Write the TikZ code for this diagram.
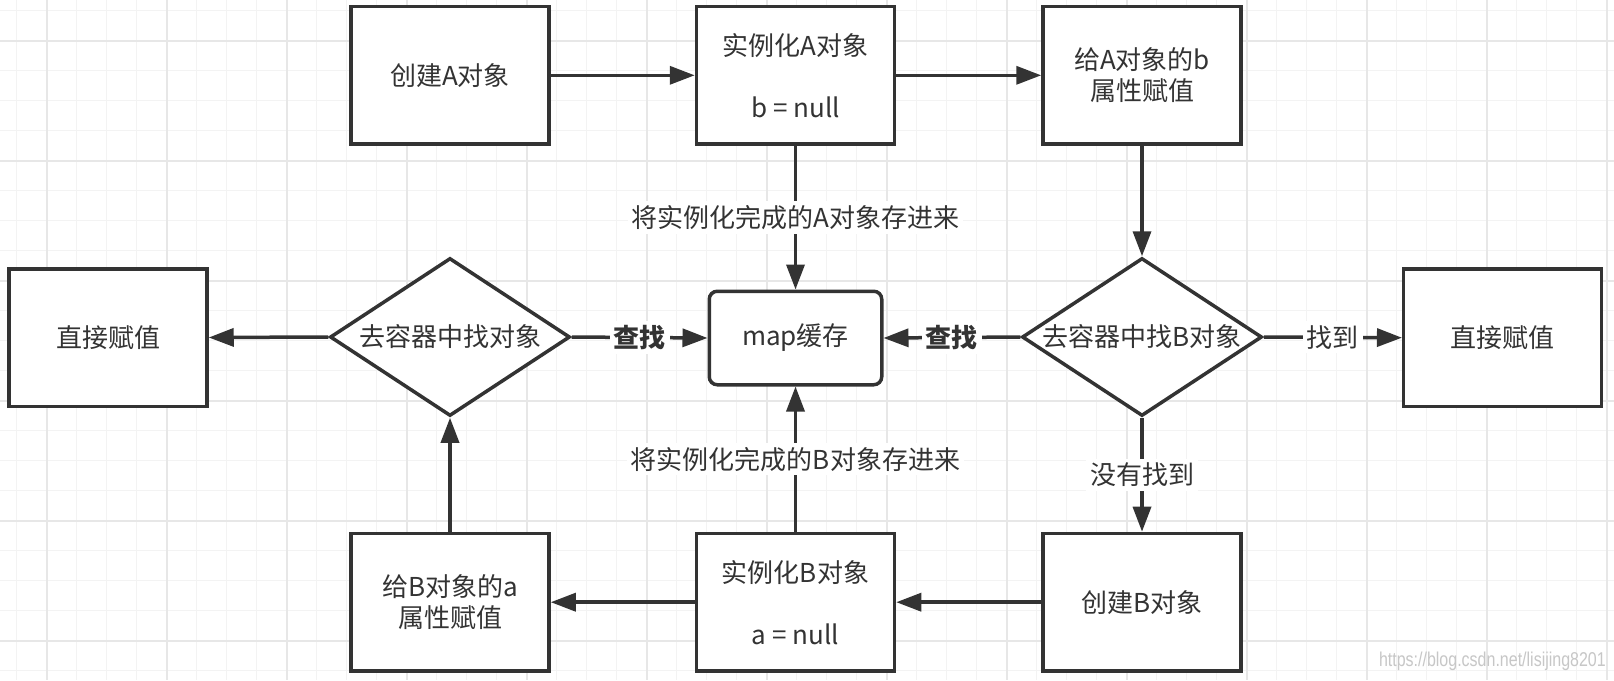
\documentclass[tikz,border=0pt]{standalone}
\usepackage{fontspec}
\usepackage{graphicx}
\setmainfont{Noto Sans CJK SC}
\newfontfamily\wmfont{Liberation Sans}
\usetikzlibrary{shapes.geometric,arrows.meta}
\definecolor{ink}{RGB}{51,51,51}
\definecolor{gridminor}{RGB}{243,243,243}
\definecolor{gridmajor}{RGB}{231,231,231}
\begin{document}
\begin{tikzpicture}[x=1pt,y=-1pt,
  txt/.style={text=ink, font=\fontsize{26}{31}\selectfont, align=center},
  box/.style={txt, draw=ink, line width=3.5pt, fill=white, minimum width=198pt, minimum height=137.5pt, inner sep=0pt},
  mapbox/.style={txt, draw=ink, line width=3.5pt, fill=white, rounded corners=8pt, minimum width=172.5pt, minimum height=93.5pt, inner sep=0pt},
  dia/.style={txt, diamond, aspect=1.5, draw=ink, line width=3.5pt, fill=white, minimum width=240pt, minimum height=158pt, inner sep=0pt},
  arr/.style={draw=ink, line width=3.5pt, -{Triangle[length=25pt,width=18pt]}},
  lbl/.style={txt, fill=white, inner sep=4pt},
  blbl/.style={lbl, font=\fontsize{26}{31}\selectfont\bfseries},
  gmin/.style={draw=gridminor, line width=1.5pt},
  gmaj/.style={draw=gridmajor, line width=1.8pt}
]
\useasboundingbox (0,0) rectangle (1614,680);
\fill[white] (0,0) rectangle (1614,680);
\foreach \i in {0,...,53} \draw[gmin] ({16.7+30*\i},0) -- ({16.7+30*\i},680);
\foreach \j in {0,...,22} \draw[gmin] (0,{10.7+30*\j}) -- (1614,{10.7+30*\j});
\foreach \i in {0,...,13} \draw[gmaj] ({46.7+120*\i},0) -- ({46.7+120*\i},680);
\foreach \j in {0,...,5} \draw[gmaj] (0,{40.7+120*\j}) -- (1614,{40.7+120*\j});

\node[box] (cA) at (450,75.3) {创建A对象};
\node[box] (iA) at (795.5,75.3) {实例化A对象\\[31pt]b = null};
\node[box] (gA) at (1142,75.3) {给A对象的b\\属性赋值};
\node[box] (lB) at (108,337.5) {直接赋值};
\node[dia] (dL) at (450,337) {去容器中找对象};
\node[mapbox] (map) at (795.5,338) {map缓存};
\node[dia] (dR) at (1142,337) {去容器中找B对象};
\node[box] (rB) at (1502.7,337.7) {直接赋值};
\node[box] (gB) at (450,602.2) {给B对象的a\\属性赋值};
\node[box] (iB) at (795.5,602.2) {实例化B对象\\[31pt]a = null};
\node[box] (cB) at (1142,602.2) {创建B对象};

\draw[arr] (cA) -- (iA);
\draw[arr] (iA) -- (gA);
\draw[arr] (iA.south) -- node[lbl]{将实例化完成的A对象存进来} (map.north);
\draw[arr] (gA.south) -- (dR.north);
\draw[arr] (dR.west) -- node[blbl]{查找} (map.east);
\draw[arr] (dR.east) -- node[lbl]{找到} (rB.west);
\draw[arr] (dR.south) -- node[lbl]{没有找到} (cB.north);
\draw[arr] (cB) -- (iB);
\draw[arr] (iB) -- (gB);
\draw[arr] (iB.north) -- node[lbl]{将实例化完成的B对象存进来} (map.south);
\draw[arr] (gB.north) -- (dL.south);
\draw[arr] (dL.east) -- node[blbl]{查找} (map.west);
\draw[arr] (dL.west) -- (lB.east);

\node[anchor=east, inner sep=0pt, text=black!22, font=\wmfont\fontsize{20}{20}\selectfont] (wm) at (1606,661.7) {\scalebox{0.8}[1]{https://blog.csdn.net/lisijing8201}};
\end{tikzpicture}
\end{document}
